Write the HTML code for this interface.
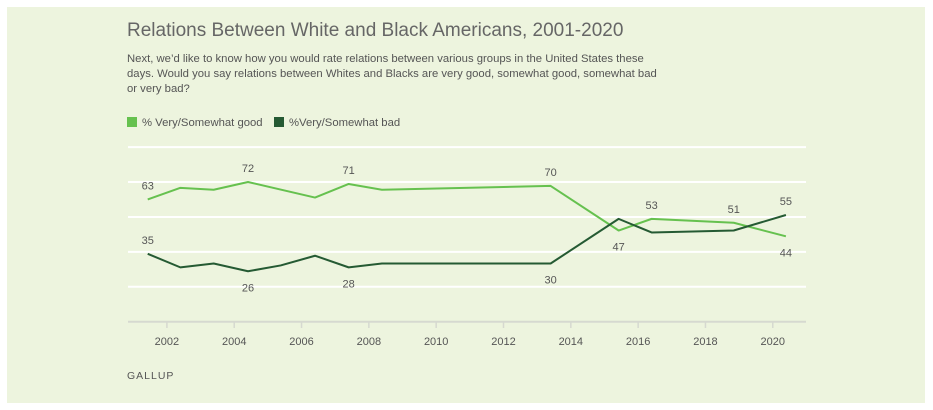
<!DOCTYPE html>
<html><head><meta charset="utf-8">
<style>
body{margin:0;background:#fff;width:933px;height:410px;overflow:hidden;font-family:"Liberation Sans",sans-serif;}
#card{position:absolute;left:7px;top:7px;width:918px;height:396px;background:#edf4de;}
.t{position:absolute;color:#5f5f5f;}
</style></head><body>
<div id="card"></div>
<div class="t" style="left:127px;top:20px;font-size:19px;color:#666;">Relations Between White and Black Americans, 2001-2020</div>
<div class="t" style="left:127px;top:52px;width:530px;font-size:11.3px;line-height:15px;color:#555;">Next, we’d like to know how you would rate relations between various groups in the United States these days. Would you say relations between Whites and Blacks are very good, somewhat good, somewhat bad or very bad?</div>
<div class="t" style="left:127px;top:117px;font-size:11.3px;color:#555;"><span style="display:inline-block;width:10px;height:10px;background:#66c14f;vertical-align:-1px;margin-right:5px;"></span>% Very/Somewhat good</div>
<div class="t" style="left:274px;top:117px;font-size:11.3px;color:#555;"><span style="display:inline-block;width:10px;height:10px;background:#255a33;vertical-align:-1px;margin-right:5px;"></span>%Very/Somewhat bad</div>
<div class="t" style="left:127px;top:370px;font-size:10.5px;letter-spacing:1px;color:#555;">GALLUP</div>
<svg id="chart" width="933" height="410" style="position:absolute;left:0;top:0;"></svg>
<script>
const years=[2001.43,2002.4,2003.39,2004.41,2005.38,2006.4,2007.4,2008.39,2013.4,2015.42,2016.4,2018.84,2020.39];
const goodVals=[63,69,68,72,null,64,71,68,70,47,53,51,44];
const badVals=[35,28,30,26,29,34,28,30,30,53,46,47,55];
const goodLabels={0:"63",3:"72",6:"71",8:"70",9:"47",10:"53",11:"51",12:"44"};
const badLabels={0:"35",3:"26",6:"28",8:"30",12:"55"};
const goodLabelPos={0:-1,3:-1,6:-1,8:-1,9:1,10:-1,11:-1,12:1};
const badLabelPos={0:-1,3:1,6:1,8:1,12:-1};
const xTicks=[2002,2004,2006,2008,2010,2012,2014,2016,2018,2020];
const gridVals=[18,36,54,72,90];
const NS="http://www.w3.org/2000/svg";
const svg=document.getElementById('chart');
const x=y=>166.9+(y-2002)*33.66;
const yv=v=>321.7-v*1.94;
function mk(t,a){const e=document.createElementNS(NS,t);for(const k in a)e.setAttribute(k,a[k]);svg.appendChild(e);return e;}
gridVals.forEach(g=>{const l=mk('line',{x1:128,x2:806,y1:yv(g),y2:yv(g),stroke:'#fff','stroke-width':2});

});
const base=mk('line',{x1:128,x2:806,y1:321.7,y2:321.7,stroke:'#d6d9d0','stroke-width':2});


xTicks.forEach(t=>{const l=mk('line',{x1:x(t),x2:x(t),y1:322,y2:328,stroke:'#d6d9d0','stroke-width':1.5});


const tx=mk('text',{x:x(t),y:345,'text-anchor':'middle','font-size':11,fill:'#555','font-family':'Liberation Sans, sans-serif'});
tx.textContent=t;

});
function series(vals,color,name,labels,pos){
 const pts=[];vals.forEach((v,i)=>{if(v!==null)pts.push([x(years[i]),yv(v)]);});
 const p=mk('polyline',{points:pts.map(p=>p.join(',')).join(' '),fill:'none',stroke:color,'stroke-width':2,'stroke-linejoin':'round'});
 
 
 for(const i in labels){const t=mk('text',{x:x(years[i]),y:yv(vals[i])+(pos[i]<0?-10:20),'text-anchor':'middle','font-size':11,fill:'#555','font-family':'Liberation Sans, sans-serif'});
 t.textContent=labels[i];
 
 }
}
series(goodVals,'#66c14f','series-good',goodLabels,goodLabelPos);
series(badVals,'#255a33','series-bad',badLabels,badLabelPos);
</script>
</body></html>
